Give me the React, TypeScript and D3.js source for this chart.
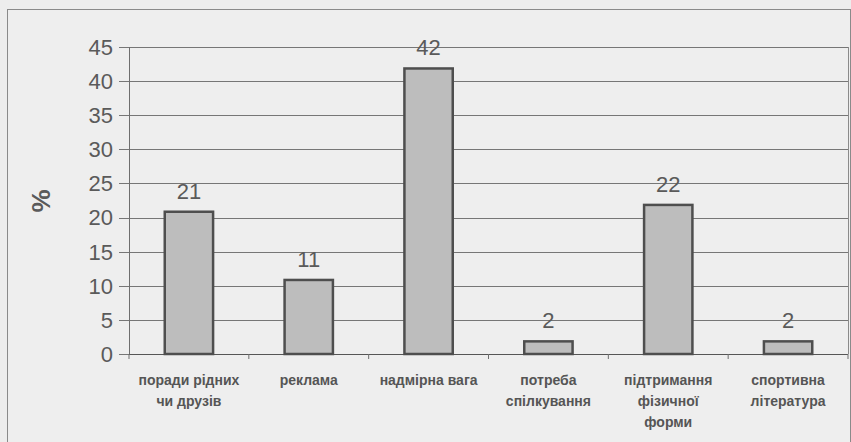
import { useEffect, useRef } from "react";
import * as d3 from "d3";

const categories = [
  ["поради рідних", "чи друзів"],
  ["реклама"],
  ["надмірна вага"],
  ["потреба", "спілкування"],
  ["підтримання", "фізичної", "форми"],
  ["спортивна", "література"],
];
const values = [21, 11, 42, 2, 22, 2];
const yTicks = [0, 5, 10, 15, 20, 25, 30, 35, 40, 45];

export default function App() {
  const ref = useRef<SVGSVGElement>(null);

  useEffect(() => {
    if (!ref.current) return;
    const svg = d3.select(ref.current);
    svg.selectAll("*").remove();

    const w = 851, h = 442;
    const left = 129, right = 848, top = 47, bottom = 354;
    const ink = "#5a5a5a";
    const font = "Liberation Sans, Arial, sans-serif";

    svg.append("rect").attr("width", w).attr("height", h).attr("fill", "#ededed");
    svg.append("rect").attr("x", 7.5).attr("y", 9.5).attr("width", w - 8).attr("height", h)
      .attr("fill", "#eeeeee").attr("stroke", "#8a8a8a").attr("stroke-width", 1);

    const x = d3.scaleBand<number>().domain(d3.range(values.length)).range([left, right])
      .paddingInner(0.58).paddingOuter(0.29);
    const y = d3.scaleLinear().domain([0, 45]).range([bottom, top]);

    const g = svg.append("g");
    // gridlines
    g.selectAll("line.grid").data(yTicks).join("line")
      .attr("x1", left).attr("x2", right)
      .attr("y1", (d) => Math.round(y(d)) + 0.5).attr("y2", (d) => Math.round(y(d)) + 0.5)
      .attr("stroke", "#767676").attr("stroke-width", 1);
    // tick marks
    g.selectAll("line.tick").data(yTicks).join("line")
      .attr("x1", left - 10).attr("x2", left)
      .attr("y1", (d) => Math.round(y(d)) + 0.5).attr("y2", (d) => Math.round(y(d)) + 0.5)
      .attr("stroke", "#767676");
    g.selectAll("text.ytick").data(yTicks).join("text")
      .attr("x", left - 16).attr("y", (d) => y(d)).attr("dy", "0.36em")
      .attr("text-anchor", "end").attr("font-family", font).attr("font-size", 22)
      .attr("fill", ink).text((d) => d);

    // axis lines
    g.append("line").attr("x1", left + 0.5).attr("x2", left + 0.5).attr("y1", top).attr("y2", bottom)
      .attr("stroke", "#6e6e6e");
    g.append("line").attr("x1", right + 0.5).attr("x2", right + 0.5).attr("y1", top).attr("y2", bottom)
      .attr("stroke", "#8a8a8a");
    g.append("line").attr("x1", left).attr("x2", right).attr("y1", bottom + 0.5).attr("y2", bottom + 0.5)
      .attr("stroke", "#555");
    g.selectAll("line.xtick").data(d3.range(values.length + 1)).join("line")
      .attr("x1", (i) => left + i * (right - left) / values.length)
      .attr("x2", (i) => left + i * (right - left) / values.length)
      .attr("y1", bottom).attr("y2", bottom + 5).attr("stroke", "#6e6e6e");

    // bars
    g.selectAll("rect.bar").data(values).join("rect")
      .attr("x", (_, i) => x(i)! + 1).attr("y", (d) => y(d) + 1)
      .attr("width", x.bandwidth() - 2).attr("height", (d) => bottom - y(d) - 1)
      .attr("fill", "#bdbdbd").attr("stroke", "#4e4e4e").attr("stroke-width", 2.5);

    g.selectAll("text.val").data(values).join("text")
      .attr("x", (_, i) => x(i)! + x.bandwidth() / 2).attr("y", (d) => y(d) - 12)
      .attr("text-anchor", "middle").attr("font-family", font).attr("font-size", 22)
      .attr("fill", ink).text((d) => d);

    // category labels
    categories.forEach((lines, i) => {
      const t = g.append("text").attr("text-anchor", "middle").attr("font-family", font)
        .attr("font-size", 14).attr("font-weight", "bold").attr("fill", "#555");
      lines.forEach((line, j) => {
        t.append("tspan").attr("x", x(i)! + x.bandwidth() / 2).attr("y", 385 + j * 21).text(line);
      });
    });

    svg.append("text").attr("transform", "translate(50,201) rotate(-90)")
      .attr("text-anchor", "middle").attr("font-family", font).attr("font-size", 26)
      .attr("font-weight", "bold").attr("fill", ink).text("%");
  }, []);

  return (
    <div style={{ position: "absolute", left: 0, top: 0 }}>
      <svg ref={ref} width={851} height={442} style={{ display: "block" }} />
    </div>
  );
}
